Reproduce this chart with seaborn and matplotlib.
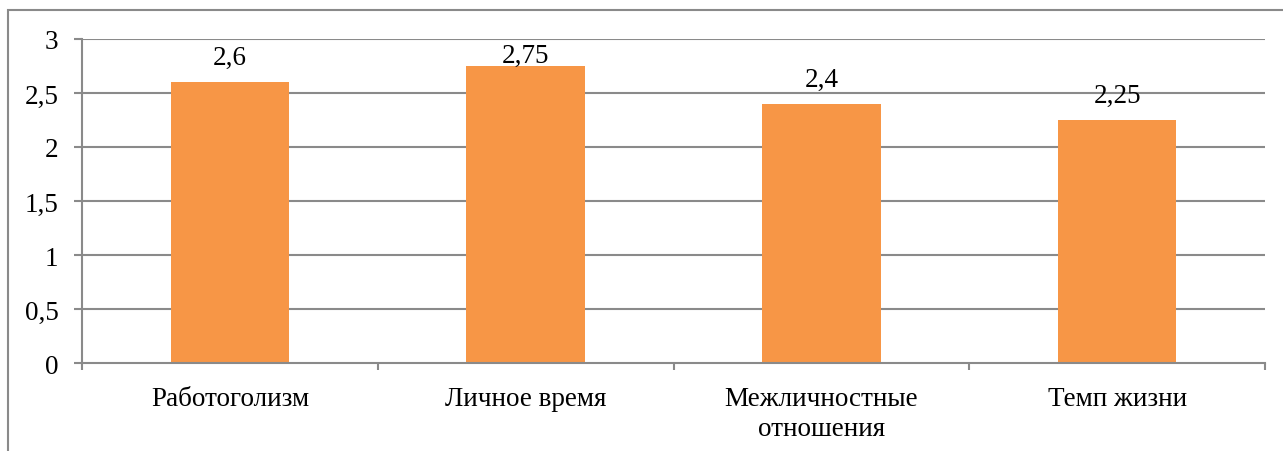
import matplotlib
matplotlib.use("Agg")
import matplotlib.pyplot as plt
import matplotlib.patches as mpatches
import seaborn as sns
import pandas as pd

categories = ["Работоголизм", "Личное время", "Межличностные\nотношения", "Темп жизни"]
values = [2.6, 2.75, 2.4, 2.25]
value_labels = ["2,6", "2,75", "2,4", "2,25"]
yticks = [0, 0.5, 1, 1.5, 2, 2.5, 3]
ytick_labels = ["0", "0,5", "1", "1,5", "2", "2,5", "3"]

sns.set_theme(style="white")
plt.rcParams["font.family"] = ["Liberation Serif", "DejaVu Serif"]
plt.rcParams["text.color"] = "black"
plt.rcParams["xtick.color"] = "black"
plt.rcParams["ytick.color"] = "black"

FS = 19.5
W, H = 1283, 452
fig = plt.figure(figsize=(W / 100, H / 100), dpi=100)
ax = fig.add_axes([82 / W, 1 - 364 / H, (1265 - 82) / W, (364 - 40) / H])

df = pd.DataFrame({"cat": categories, "val": values})
sns.barplot(data=df, x="cat", y="val", color="#F79646", saturation=1,
            width=0.4, linewidth=0, edgecolor="none", ax=ax, zorder=2)

ax.set_xlim(-0.5, len(categories) - 0.5)
ax.set_ylim(0, 3)
ax.set_yticks(yticks)
ax.set_yticklabels(ytick_labels, fontsize=FS)
ax.set_xlabel("")
ax.set_ylabel("")

grid_col = "#8a8a8a"
for y in yticks[1:]:
    ax.axhline(y, color=grid_col, lw=1.5, zorder=0.5)

for side in ["top", "right"]:
    ax.spines[side].set_visible(False)
for side in ["left", "bottom"]:
    ax.spines[side].set_color(grid_col)
    ax.spines[side].set_linewidth(1.5)
    ax.spines[side].set_zorder(3)

ax.tick_params(axis="y", length=6, width=1.5, color=grid_col, left=True,
               pad=11, labelcolor="black")

# Category boundary ticks below the baseline
ax.set_xticks([i - 0.5 for i in range(len(categories) + 1)])
ax.set_xticklabels([""] * (len(categories) + 1))
ax.tick_params(axis="x", length=5, width=1.5, color=grid_col, bottom=True,
               direction="out")
for i, c in enumerate(categories):
    ax.text(i, -0.21, c, ha="center", va="top", fontsize=FS, color="black",
            transform=ax.transData, linespacing=1.28)

# Value labels above bars, kept inside the plotting area
top_limit = 2.79
for i, (v, lab) in enumerate(zip(values, value_labels)):
    ax.text(i, min(v + 0.165, top_limit), lab, ha="center", va="baseline",
            fontsize=FS, color="black", zorder=4)

# Outer chart frame
frame = mpatches.Rectangle((8 / W, -0.1), 1.2, 1 - 11 / H + 0.1,
                           transform=fig.transFigure, fill=False,
                           edgecolor="#8a8a8a", lw=1.5, clip_on=False)
fig.patches.append(frame)

fig.savefig("out.png", dpi=100, facecolor="white")
